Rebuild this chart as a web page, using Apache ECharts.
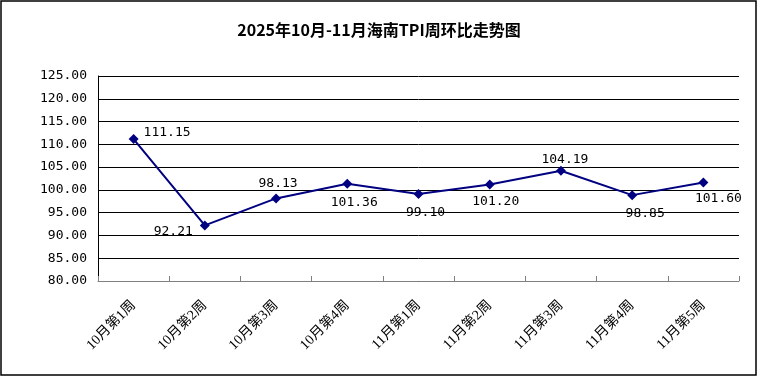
<!DOCTYPE html>
<html>
<head>
<meta charset="utf-8">
<script src="https://cdn.jsdelivr.net/npm/echarts@6/dist/echarts.min.js"></script>
<style>
  html, body { margin: 0; padding: 0; background: #fff; }
  #mychart { width: 758px; height: 377px; }
</style>
</head>
<body>
<div id="mychart"></div>
<script>
const titleText = '2025年10月-11月海南TPI周环比走势图'
const categories = ['10月第1周', '10月第2周', '10月第3周', '10月第4周', '11月第1周', '11月第2周', '11月第3周', '11月第4周', '11月第5周']
const tpiValues = [111.15, 92.21, 98.13, 101.36, 99.10, 101.20, 104.19, 98.85, 101.60]
const yMin = 80
const yMax = 125
const yStep = 5

// where each value label sits (like the excel source)
const labelPlace = [
  { position: 'right', offset: [0, -6] },
  { position: 'left', offset: [-2, 6] },
  { position: 'top', offset: [2, 2] },
  { position: 'bottom', offset: [7, 2] },
  { position: 'bottom', offset: [7, 2] },
  { position: 'bottom', offset: [6, 1] },
  { position: 'top', offset: [4, 5] },
  { position: 'bottom', offset: [13, 2] },
  { position: 'bottom', offset: [15, 0] }
]

const numFont = '"DejaVu Sans Mono", "Noto Sans CJK SC", monospace'
const lineData = tpiValues.map((v, i) => ({
  value: v,
  label: labelPlace[i]
}))

const option = {
  backgroundColor: '#ffffff',
  animation: false,
  title: {
    text: titleText,
    left: 'center',
    top: 17,
    textStyle: {
      fontFamily: '"Noto Sans CJK SC", sans-serif',
      fontSize: 16,
      fontWeight: 'bold',
      color: '#000'
    }
  },
  graphic: [{
    type: 'rect',
    shape: { x: 1, y: 1, width: 755, height: 374 },
    style: { fill: 'none', stroke: '#000', lineWidth: 1.5 },
    silent: true
  }],
  grid: {
    left: 98,
    right: 19,
    top: 76,
    bottom: 96
  },
  xAxis: {
    type: 'category',
    data: categories,
    boundaryGap: true,
    axisLine: { show: true, lineStyle: { color: '#808080', width: 1 } },
    axisTick: { show: true, inside: true, length: 5, lineStyle: { color: '#808080' } },
    axisLabel: {
      rotate: 45,
      interval: 0,
      margin: 22,
      color: '#000',
      fontSize: 14,
      fontFamily: '"Liberation Serif", "Noto Sans CJK SC", serif'
    }
  },
  yAxis: {
    type: 'value',
    min: yMin,
    max: yMax,
    interval: yStep,
    axisLine: { show: true, lineStyle: { color: '#000', width: 1 } },
    axisTick: { show: false },
    splitLine: { show: true, lineStyle: { color: '#000', width: 1 } },
    axisLabel: {
      margin: 11,
      color: '#000',
      fontSize: 13,
      fontFamily: numFont,
      formatter: function(v) {
        return v.toFixed(2)
      }
    }
  },
  series: [{
    type: 'line',
    data: lineData,
    symbol: 'diamond',
    symbolSize: 10,
    lineStyle: { color: '#000080', width: 2 },
    itemStyle: { color: '#000080' },
    label: {
      show: true,
      color: '#000',
      fontSize: 13,
      fontFamily: numFont,
      distance: 5,
      formatter: function(p) {
        return p.value.toFixed(2)
      }
    }
  }]
}

const myChart = echarts.init(document.getElementById('mychart'))
myChart.setOption(option)
</script>
</body>
</html>
